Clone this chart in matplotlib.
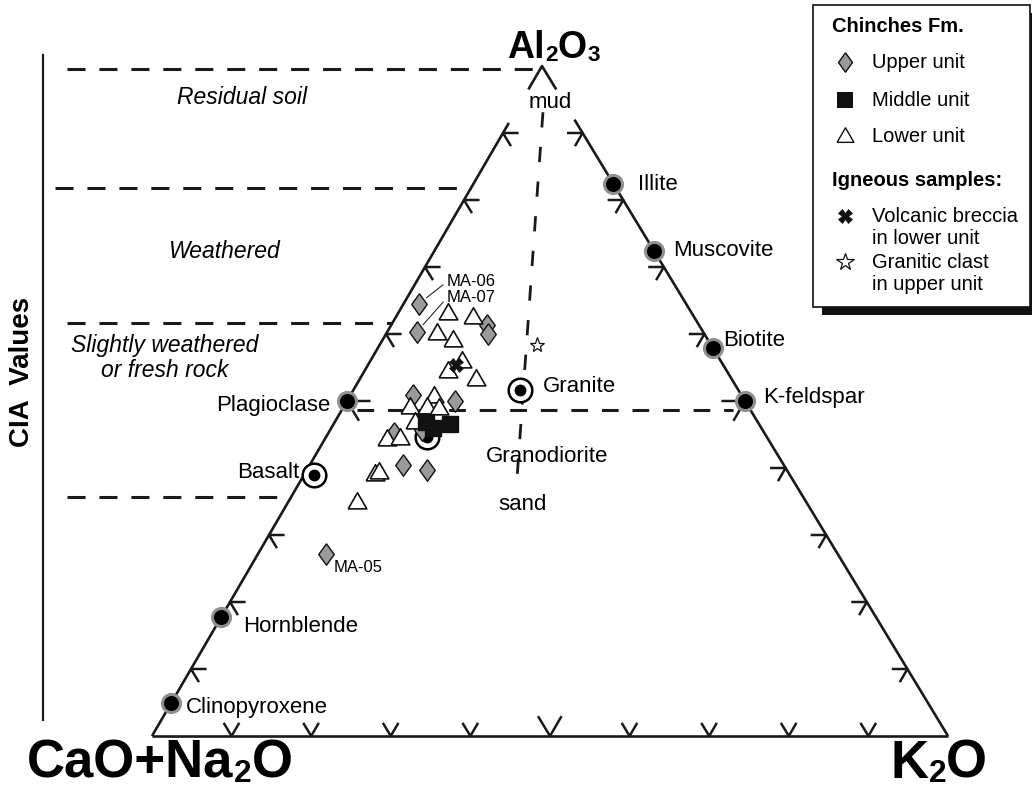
import numpy as np
import matplotlib
matplotlib.use("Agg")
import matplotlib.pyplot as plt
from matplotlib.patches import Rectangle

plt.rcParams['font.family'] = ['Liberation Sans', 'DejaVu Sans']
plt.rcParams['lines.scale_dashes'] = False

# --- sample data, molar % (A = Al2O3, K = K2O, CN = rest) ---
upper_A = [64.5, 60.3, 61.3, 60.0, 50.9, 50.0, 45.2, 40.4, 39.7, 45.7, 27.2]
upper_K = [1.9, 3.7, 12.0, 12.8, 7.8, 13.6, 8.3, 11.7, 15.1, 11.5, 8.5]
lower_A = [63.0, 62.4, 60.0, 59.0, 55.8, 54.3, 53.1, 50.6, 49.0, 49.0, 48.8,
           46.7, 44.2, 44.3, 39.0, 39.3, 34.8]
lower_K = [6.3, 9.7, 6.4, 8.9, 11.6, 10.6, 14.7, 10.6, 8.4, 10.6, 12.2,
           10.1, 7.9, 9.4, 8.9, 9.2, 8.7]
middle_A = [46.9, 46.0, 46.6]
middle_K = [11.4, 12.8, 14.6]
breccia_A = [55.4]
breccia_K = [11.0]
clast_A = [58.4]
clast_K = [19.8]
# labelled samples: name, A, K
labelled = [('MA-06', 64.5, 1.9), ('MA-07', 60.3, 3.7), ('MA-05', 27.2, 8.5)]

# reference minerals and rocks
mineral_names = ['Illite', 'Muscovite', 'Biotite', 'K-feldspar', 'Plagioclase',
                 'Hornblende', 'Clinopyroxene']
mineral_A = [82.4, 72.4, 57.9, 50.0, 50.0, 17.8, 4.9]
mineral_K = [17.6, 27.6, 42.1, 50.0, 0.0, 0.0, 0.0]
rock_names = ['Granite', 'Granodiorite', 'Basalt']
rock_A = [51.6, 44.6, 39.0]
rock_K = [21.0, 12.7, 1.3]

# mud -> sand trend, feldspar join and CIA boundaries (as A %)
mudsand_A = [93.1, 36.4]
mudsand_K = [3.5, 27.9]
join_A = [48.6, 48.6]
join_K = [2.0, 49.2]
cia_A = [99.5, 81.8, 61.6, 35.7]
zone_names = ['Residual soil', 'Weathered', 'Slightly weathered\nor fresh rock']

# triangle corners in figure pixels (CN, K, A)
BL = (152, 736)
BR = (948, 736)
TOP = (542, 66)


def tern(a, k):
    a = np.asarray(a, dtype=float) / 100
    k = np.asarray(k, dtype=float) / 100
    cn = 1 - a - k
    x = cn * BL[0] + k * BR[0] + a * TOP[0]
    y = cn * BL[1] + k * BR[1] + a * TOP[1]
    return x, y


fig = plt.figure(figsize=(10.32, 7.87), dpi=100)
ax = fig.add_axes([0, 0, 1, 1])
ax.set_xlim(0, 1032)
ax.set_ylim(787, 0)
ax.axis('off')


def chem(x, y, parts, size):
    # bold formula with small digits sitting on the baseline
    first = ax.text(x, y, parts[0], fontsize=size, fontweight='bold',
                    ha='left', va='bottom')
    prev = first
    for p in parts[1:]:
        fs = size * 0.6 if p.isdigit() else size
        prev = ax.annotate(p, xy=(1, 0), xycoords=(prev, first),
                           xytext=(0.5 if p.isdigit() else 0, 0),
                           textcoords='offset points', fontsize=fs,
                           fontweight='bold', ha='left', va='bottom')


side = dict(color='#1a1a1a', lw=1.9, solid_capstyle='butt', zorder=3)
ax.plot(*tern([0, 91.5], [0, 0]), **side)
ax.plot(*tern([0, 92.0], [100, 8.0]), **side)
ax.plot(*tern([0, 0], [0, 100]), **side)
ax.plot(*tern([96.5, 100, 96.5], [0, 0, 3.5]), **side)

# grid-stub ticks every 10 %
tick = dict(color='#1a1a1a', lw=1.8, zorder=3)
for v in range(10, 100, 10):
    d = 2.8 if v == 50 else 1.8
    ax.plot(*tern([d, 0, d], [v - d, v, v]), **tick)               # base
    ax.plot(*tern([v, v, v - d], [d, 0, d]), **tick)               # left side
    kk = 100 - v
    ax.plot(*tern([v, v, v - d], [kk - d, kk, kk]), **tick)        # right side

# CIA scale on the left
ax.plot([43, 43], [55, 720], color='#1a1a1a', lw=1.6)
ax.text(22, 372, 'CIA  Values', rotation=90, fontsize=20, fontweight='bold',
        ha='center', va='center')
starts = [67, 55, 67, 67]
for a, x0 in zip(cia_A, starts):
    xe, ye = tern(a, 0)
    ax.plot([x0, xe], [ye, ye], color='#1a1a1a', lw=2.2, dashes=(13, 10))
zone_xy = [(242, 97), (224, 252), (165, 358)]
for name, (zx, zy) in zip(zone_names, zone_xy):
    ax.text(zx, zy, name, fontsize=16.5, style='italic', ha='center',
            va='center', linespacing=1.15)

ax.plot(*tern(mudsand_A, mudsand_K), color='#1a1a1a', lw=2.0,
        dashes=(11, 14), zorder=2)
ax.plot(*tern(join_A, join_K), color='#1a1a1a', lw=2.2,
        dashes=(12, 10), zorder=2)

# reference points
ax.plot(*tern(mineral_A, mineral_K), 'o', ms=13, mfc='black', mec='#8f8f8f',
        mew=2.2, zorder=4, ls='none')
rx, ry = tern(rock_A, rock_K)
ax.plot(rx, ry, 'o', ms=17, mfc='white', mec='black', mew=1.8, ls='none',
        zorder=4)
ax.plot(rx, ry, 'o', ms=7.5, mfc='black', mec='black', ls='none', zorder=4)

lab_pos = {'Illite': (638, 185, 'left'), 'Muscovite': (673, 251, 'left'),
           'Biotite': (723, 340, 'left'), 'K-feldspar': (763, 397, 'left'),
           'Plagioclase': (330, 405, 'right'), 'Hornblende': (243, 627, 'left'),
           'Clinopyroxene': (186, 708, 'left'), 'Granite': (543, 387, 'left'),
           'Granodiorite': (547, 457, 'center'), 'Basalt': (299, 472, 'right')}
for name in mineral_names + rock_names:
    lx, ly, ha = lab_pos[name]
    ax.text(lx, ly, name, fontsize=16, ha=ha, va='center')
ax.text(550, 103, 'mud', fontsize=16, ha='center', va='center')
ax.text(523, 505, 'sand', fontsize=16, ha='center', va='center')

# samples
diamond = [(0, 1), (0.72, 0), (0, -1), (-0.72, 0), (0, 1)]
triangle = [(-1, -0.577), (1, -0.577), (0, 1.155), (-1, -0.577)]
ax.plot(*tern(upper_A, upper_K), marker=diamond, ms=15.5, mfc='#9a9a9a',
        mec='#111111', mew=1.0, ls='none', zorder=5)
ax.plot(*tern(lower_A, lower_K), marker=triangle, ms=15.5, mfc='white',
        mec='#111111', mew=1.2, ls='none', zorder=6)
ax.plot(*tern(middle_A, middle_K), 's', ms=11, mfc='#111111', mec='#111111',
        ls='none', zorder=7)
ax.plot(*tern(breccia_A, breccia_K), 'X', ms=10, mfc='#111111', mec='#111111',
        mew=0.5, ls='none', zorder=8)
ax.plot(*tern(clast_A, clast_K), '*', ms=11, mfc='white', mec='#111111',
        mew=0.9, ls='none', zorder=8)

text_pos = {'MA-06': (447, 281), 'MA-07': (447, 297), 'MA-05': (334, 568)}
for name, a, k in labelled:
    px, py = tern(a, k)
    tx, ty = text_pos[name]
    if name == 'MA-05':
        ax.text(tx, ty, name, fontsize=12, ha='left', va='center')
    else:
        ax.annotate(name, xy=(float(px), float(py)), xytext=(tx, ty),
                    fontsize=12, ha='left', va='center',
                    arrowprops=dict(arrowstyle='-', lw=0.7, color='#111111',
                                    shrinkA=1, shrinkB=7, relpos=(0, 0.45)))

# corner labels
chem(507, 66, ['Al', '2', 'O', '3'], 27)
chem(27, 789, ['CaO+Na', '2', 'O'], 38)
chem(890, 789, ['K', '2', 'O'], 38)

# legend box with drop shadow
ax.add_patch(Rectangle((822, 13), 215, 302, facecolor='#111111',
                       edgecolor='none', zorder=9))
ax.add_patch(Rectangle((813, 5), 217, 302, facecolor='white',
                       edgecolor='#111111', lw=1.2, zorder=10))
ax.text(832, 27, 'Chinches Fm.', fontsize=14.5, fontweight='bold', va='center',
        zorder=11)
ax.text(832, 180, 'Igneous samples:', fontsize=14.5, fontweight='bold',
        va='center', zorder=11)
entries = [(diamond, 62, 'Upper unit', dict(ms=14, mfc='#9a9a9a', mew=1.0)),
           ('s', 100, 'Middle unit', dict(ms=11, mfc='#111111', mew=0)),
           (triangle, 137, 'Lower unit', dict(ms=14, mfc='white', mew=1.0)),
           ('X', 216, 'Volcanic breccia\nin lower unit',
            dict(ms=10, mfc='#111111', mew=0.5)),
           ('*', 262, 'Granitic clast\nin upper unit',
            dict(ms=13, mfc='white', mew=0.9))]
for mk, ly, txt, kw in entries:
    ax.plot([845], [ly], marker=mk, mec='#111111', ls='none', zorder=11, **kw)
    ty = ly + 12 if '\n' in txt else ly
    ax.text(872, ty, txt, fontsize=14.5, va='center', linespacing=1.2,
            zorder=11)

fig.savefig('out.png', dpi=100)
